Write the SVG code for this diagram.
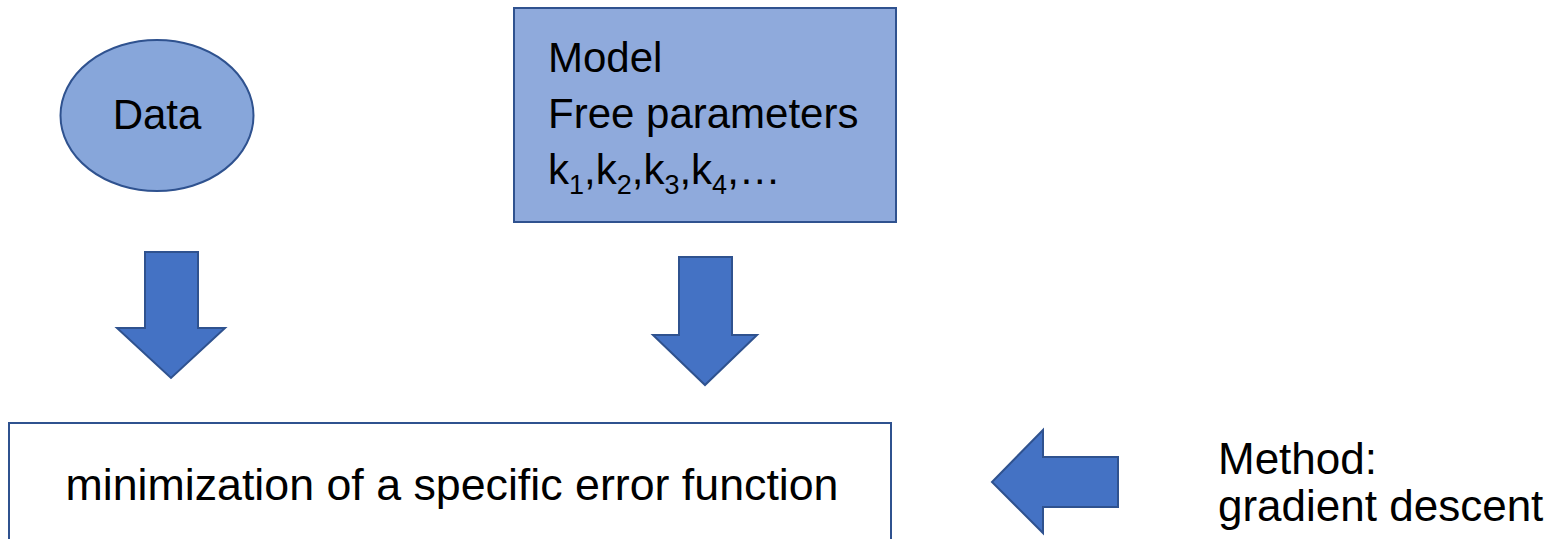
<svg xmlns="http://www.w3.org/2000/svg" width="1558" height="539" viewBox="0 0 1558 539">
  <style>
    .lbl { font-family: "Liberation Sans", Arial, sans-serif; fill: #000000; }
    .arrow { fill: #4472C4; stroke: #2F528F; stroke-width: 2; stroke-linejoin: miter; }
    .sub { font-size: 27px; }
  </style>
  <rect width="1558" height="539" fill="#FFFFFF"/>
  <g id="node-data">
    <ellipse cx="157" cy="115.5" rx="96.5" ry="75.5" fill="#87A6DA" stroke="#2F528F" stroke-width="2"/>
    <text class="lbl" x="157" y="129" font-size="42" text-anchor="middle">Data</text>
  </g>
  <g id="node-model">
    <rect x="514" y="8" width="382" height="214" fill="#8FAADC" stroke="#2F528F" stroke-width="2"/>
    <text class="lbl" x="548" y="72" font-size="42">Model</text>
    <text class="lbl" x="548" y="128" font-size="42">Free parameters</text>
    <text class="lbl" x="548" y="184" font-size="42">k<tspan class="sub" dy="10">1</tspan><tspan dy="-10">,k</tspan><tspan class="sub" dy="10">2</tspan><tspan dy="-10">,k</tspan><tspan class="sub" dy="10">3</tspan><tspan dy="-10">,k</tspan><tspan class="sub" dy="10">4</tspan><tspan dy="-10">,…</tspan></text>
  </g>
  <g id="node-minimization">
    <rect x="9" y="423" width="882" height="140" fill="#FFFFFF" stroke="#2F528F" stroke-width="2"/>
    <text class="lbl" x="452" y="500" font-size="44" text-anchor="middle" textLength="773" lengthAdjust="spacingAndGlyphs">minimization of a specific error function</text>
  </g>
  <g id="node-method">
    <text class="lbl" x="1218" y="474" font-size="44">Method:</text>
    <text class="lbl" x="1218" y="521" font-size="44">gradient descent</text>
  </g>
  <g id="connectors">
    <polygon class="arrow" points="145,252 198,252 198,328 225,328 171,378 117,328 145,328"/>
    <polygon class="arrow" points="679,257 732,257 732,335 757,335 705,385 653,335 679,335"/>
    <polygon class="arrow" points="1118,457 1118,507 1043,507 1043,533 992,482 1043,430 1043,457"/>
  </g>
</svg>
